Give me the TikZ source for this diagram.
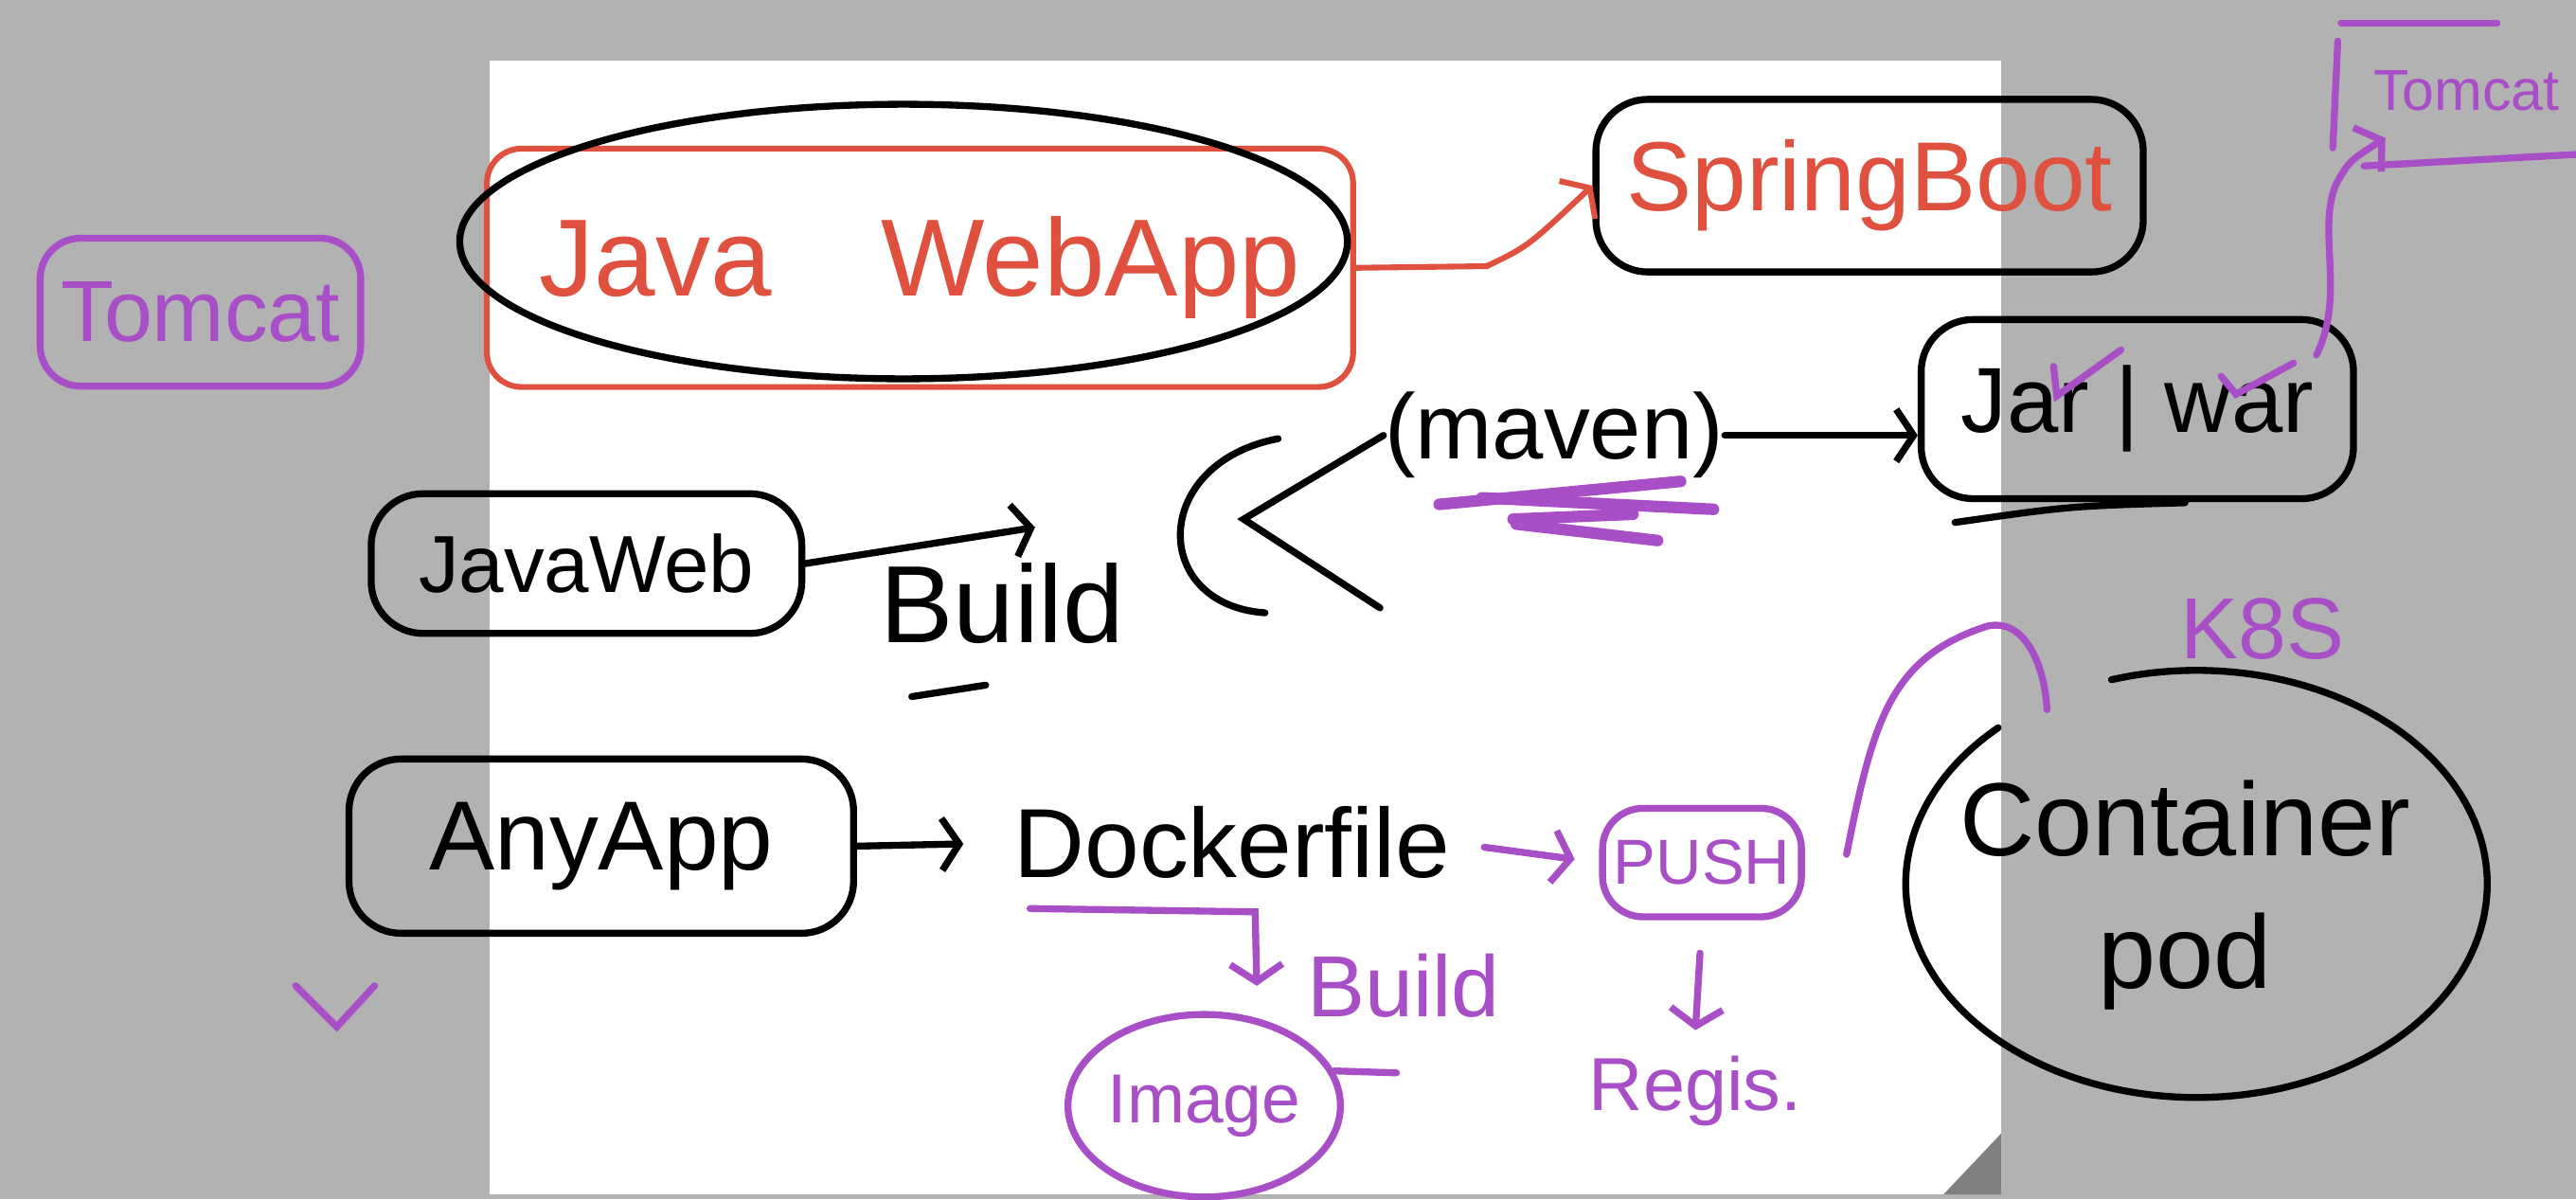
\documentclass[tikz,border=0pt]{standalone}
\usepackage{fontspec}
\setmainfont{Liberation Sans}
\usepackage{xcolor}
\usepackage{tikz}
\usetikzlibrary{arrows.meta,positioning,shapes.geometric}

\definecolor{sketchred}{HTML}{E0503F}
\definecolor{sketchpurple}{HTML}{A84EC6}
\definecolor{deskgray}{HTML}{B2B2B2}
\definecolor{foldgray}{HTML}{808080}

\begin{document}
\begin{tikzpicture}[x=0.01cm, y=-0.01cm,
      box_black/.style={
         draw=black,
         line width=1.2pt,
         rounded corners=9pt,
         inner sep=0pt},
      box_red/.style={
         draw=sketchred,
         line width=1pt,
         rounded corners=6pt,
         text=sketchred,
         inner sep=0pt},
      box_purple/.style={
         draw=sketchpurple,
         line width=1.2pt,
         rounded corners=7pt,
         text=sketchpurple,
         inner sep=0pt},
      ring_black/.style={
         ellipse,
         draw=black,
         line width=1.2pt,
         inner sep=0pt},
      ring_purple/.style={
         ellipse,
         draw=sketchpurple,
         line width=1.2pt,
         text=sketchpurple,
         inner sep=0pt},
      text_purple/.style={
         text=sketchpurple,
         inner sep=0pt},
      line_black/.style={
         draw=black,
         line width=1.2pt,
         line cap=round},
      line_purple/.style={
         draw=sketchpurple,
         line width=1.2pt,
         line cap=round},
      arrow_black/.style={
        -{Straight Barb[length=3pt,width=9pt]},
        line_black},
      arrow_red/.style={
        -{Straight Barb[length=3pt,width=9pt]},
        draw=sketchred,
        line width=1pt,
        line cap=round},
      arrow_purple/.style={
        -{Straight Barb[length=3pt,width=9pt]},
        line_purple}
]
      %desk and page
      \useasboundingbox (0,0) rectangle (1568,730);
      \fill[deskgray] (0,0) rectangle (1568,730);
      \fill[white] (298,37) rectangle (1218,727);
      \fill[foldgray] (1183,727) -- (1218,690) -- (1218,727) -- cycle;

      %top row
      \node[box_purple, minimum width=1.95cm, minimum height=0.9cm, font=\fontsize{15}{15}\selectfont] (tomcatleft) at (122,190) {Tomcat};
      \node[box_red, minimum width=5.27cm, minimum height=1.45cm, font=\fontsize{19}{19}\selectfont] (javaapp) at (560,163) {Java\quad WebApp};
      \node[ring_black, minimum width=5.4cm, minimum height=1.67cm] (javaring) at (550,147) {};
      \node[box_black, minimum width=3.33cm, minimum height=1.05cm, text=sketchred, font=\fontsize{17}{17}\selectfont] (springboot) at (1138,113) {SpringBoot};
      \draw[arrow_red] (javaapp.east) -- (905,162) .. controls (930,150) .. (springboot.west);

      \node[text_purple, anchor=west, font=\fontsize{10}{10}\selectfont] (tomcatright) at (1444,55) {Tomcat};
      \draw[line_purple] (1425,14) -- (1520,14);
      \draw[line_purple] (1423,25) -- (1420,90);
      \draw[line_purple] (1439,101) -- (1568,94);

      %maven row
      \node[box_black, minimum width=2.62cm, minimum height=0.85cm, font=\fontsize{14}{14}\selectfont] (javaweb) at (357,343) {JavaWeb};
      \coordinate (buildtip) at (630,321);
      \draw[arrow_black] (javaweb.east) -- (buildtip);
      \node[font=\fontsize{19}{19}\selectfont, inner sep=0pt] (buildjava) at (610,367) {Build};
      \draw[line_black] (555,424) -- (600,417);

      \node[font=\fontsize{16}{16}\selectfont, inner sep=0pt] (maven) at (946,265) {(maven)};
      \node[box_black, minimum width=2.63cm, minimum height=1.09cm, font=\fontsize{16}{16}\selectfont] (jarwar) at (1301,249) {Jar | war};
      \draw[line_black] (1190,318) .. controls (1260,308) .. (1330,306);
      \draw[arrow_black] (maven.east) -- (maven.east -| jarwar.west);

      \coordinate (fork) at (757,316);
      \coordinate (forktail) at (840,370);
      \draw[line_black] (maven.west) -- (fork) -- (forktail);
      \draw[line_black] (778,267) .. controls (700,282) and (700,368) .. (770,373);

      \foreach \ax/\ay/\bx/\by in {% scribble under maven
        876/307/1023/293,
        902/303/1043/310,
        921/316/994/313,
        923/319/1009/329}
      \draw[line_purple, line width=2pt] (\ax,\ay) -- (\bx,\by);

      \foreach \ax/\ay/\bx/\by/\cx/\cy in {% tick marks
        1250/223/1252/241/1291/213,
        1352/229/1361/240/1396/221,
        180/600/205/625/228/600}
      \draw[line_purple] (\ax,\ay) -- (\bx,\by) -- (\cx,\cy);

      \coordinate (warcheck) at (1410,216);
      \coordinate (tomcathook) at (1452,84);
      \draw[arrow_purple] (warcheck) .. controls (1428,180) and (1410,140) .. (1422,112) .. controls (1430,98) .. (tomcathook);

      %docker row
      \node[box_black, minimum width=3.07cm, minimum height=1.06cm, font=\fontsize{17}{17}\selectfont] (anyapp) at (366,515) {AnyApp};
      \node[font=\fontsize{17}{17}\selectfont, inner sep=0pt] (dockerfile) at (750,513) {Dockerfile};
      \draw[arrow_black, shorten >=0.3cm] (anyapp.east) -- (dockerfile.west);

      \node[box_purple, minimum width=1.21cm, minimum height=0.66cm, font=\fontsize{11}{11}\selectfont] (push) at (1036,525) {PUSH};
      \draw[arrow_purple, shorten <=0.2cm, shorten >=0.15cm] (dockerfile.east) -- (push.west);

      \coordinate (dockline) at (627,553);
      \coordinate (imagetip) at (765,600);
      \draw[arrow_purple] (dockline) -- (764,555) -- (imagetip);
      \node[text_purple, font=\fontsize{15}{15}\selectfont, right=0.3cm of imagetip] (buildimage) {Build};

      \node[ring_purple, minimum width=1.5cm, minimum height=1.11cm, font=\fontsize{12}{12}\selectfont] (image) at (733,673) {Image};
      \coordinate (imagetail) at (850,653);
      \draw[line_purple] (image.15) -- (imagetail);

      \coordinate (registip) at (1032,627);
      \draw[arrow_purple, shorten <=0.2cm] (push.south) -- (registip);
      \node[text_purple, font=\fontsize{13}{13}\selectfont, below=0.15cm of registip] (regis) {Regis.};

      %pod
      \node[font=\fontsize{18}{23}\selectfont, align=center, inner sep=0pt] (pod) at (1330,545) {Container\\pod};
      \draw[line_black] plot[domain=133:467, samples=90, smooth] ({1337+177*cos(\x)}, {538-130*sin(\x)});
      \node[text_purple, font=\fontsize{15}{15}\selectfont] (kube) at (1377,383) {K8S};
      \draw[line_purple] (1124,520) .. controls (1140,440) and (1150,400) .. (1210,381) .. controls (1235,376) and (1245,410) .. (1246,432);

\end{tikzpicture}
\end{document}
